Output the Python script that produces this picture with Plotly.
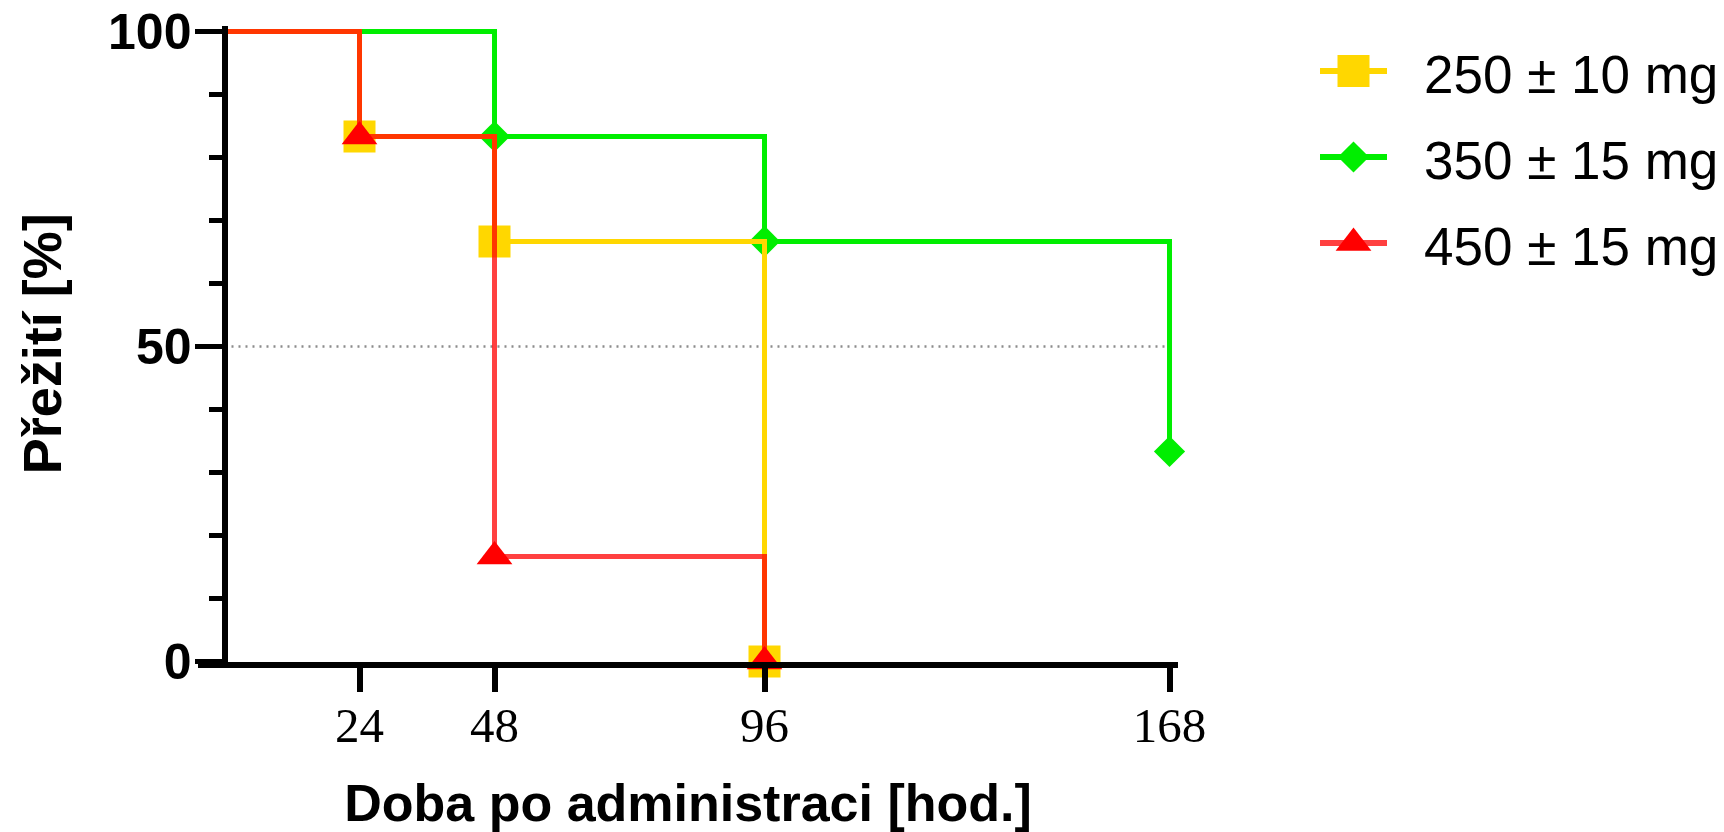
import plotly.graph_objects as go

# ---------------- data ----------------
series_names = ["250 ± 10 mg", "350 ± 15 mg", "450 ± 15 mg"]
times_250 = [0, 24, 48, 96]
surv_250 = [100, 83.33, 66.67, 0]
times_350 = [0, 48, 96, 168]
surv_350 = [100, 83.33, 66.67, 33.33]
times_450 = [0, 24, 48, 96]
surv_450 = [100, 83.33, 16.67, 0]
x_ticks = [24, 48, 96, 168]
y_ticks = [0, 50, 100]
median_level = 50

# ---------------- style ----------------
W, H = 1724, 832
def px_x(p):
    return p / W
def px_y(p):
    return 1 - p / H

SANS = "Arial, 'Liberation Sans', sans-serif"
SERIF = "'Times New Roman', 'Liberation Serif', serif"

styles = {
    "250 ± 10 mg": dict(line="#FFD700", marker="#FFD700", symbol="square", size=32),
    "350 ± 15 mg": dict(line="#00EE00", marker="#00EE00", symbol="diamond", size=24),
    "450 ± 15 mg": dict(line="rgba(255,0,0,0.75)", marker="#FF0000", symbol="triangle-up", size=31),
}
data = {
    "250 ± 10 mg": (times_250, surv_250),
    "350 ± 15 mg": (times_350, surv_350),
    "450 ± 15 mg": (times_450, surv_450),
}
draw_order = ["350 ± 15 mg", "250 ± 10 mg", "450 ± 15 mg"]

fig = go.Figure()

for name in draw_order:
    t, s = data[name]
    st = styles[name]
    sizes = [0] + [st["size"]] * (len(t) - 1)
    fig.add_trace(go.Scatter(
        x=t, y=s, name=name, mode="lines+markers",
        line=dict(color=st["line"], width=5, shape="hv"),
        marker=dict(color=st["marker"], symbol=st["symbol"], size=sizes, opacity=1, line=dict(width=0)),
        cliponaxis=False, showlegend=False,
    ))

# custom legend (samples drawn on a hidden helper axis pair)
for i, name in enumerate(series_names):
    st = styles[name]
    fig.add_trace(go.Scatter(
        x=[-1, 0, 1], y=[i, i, i], mode="lines+markers",
        line=dict(color=st["line"], width=6),
        marker=dict(color=st["marker"], symbol=st["symbol"], size=[0, st["size"], 0], opacity=1,
                    line=dict(width=0)),
        xaxis="x2", yaxis="y2", cliponaxis=False, showlegend=False, hoverinfo="skip",
    ))
    fig.add_annotation(
        x=px_x(1422), y=i, xref="paper", yref="y2", text=name, showarrow=False,
        xanchor="left", yanchor="middle", yshift=-3, font=dict(family=SANS, size=53, color="black"),
    )

# dotted 50% reference line
fig.add_shape(type="line", xref="x", yref="y", x0=0, x1=max(x_ticks), y0=median_level, y1=median_level,
              line=dict(color="#8c8c8c", width=2.5, dash="2px,5px"), layer="below")

fig.update_layout(
    template="none",
    width=W, height=H,
    margin=dict(l=0, r=0, t=0, b=0, autoexpand=False),
    paper_bgcolor="white", plot_bgcolor="white",
    showlegend=False,
    xaxis=dict(
        domain=[px_x(198), px_x(1178)], range=[-4.71, 169.51], automargin=False,
        anchor="y", showline=True, linewidth=6, linecolor="black",
        tickmode="array", tickvals=x_ticks, ticktext=[str(v) for v in x_ticks],
        ticks="outside", ticklen=24, tickwidth=6, tickcolor="black",
        tickfont=dict(family=SERIF, size=49, color="black"),
        ticklabelstandoff=-8,
        showgrid=False, zeroline=False,
        title=dict(text="Doba po administraci [hod.]", standoff=42,
                   font=dict(family=SANS, size=52, color="black", weight="bold")),
    ),
    yaxis=dict(
        domain=[px_y(661.5), px_y(26)], range=[0, 100.87], automargin=False,
        anchor="free", position=px_x(224.5), side="left",
        showline=True, linewidth=6, linecolor="black",
        tickmode="linear", tick0=0, dtick=50,
        ticks="outside", ticklen=27, tickwidth=5, tickcolor="black",
        minor=dict(tick0=0, dtick=10, ticks="outside", ticklen=13, tickwidth=5, tickcolor="black", showgrid=False),
        tickfont=dict(family=SANS, size=50, color="black", weight="bold"),
        ticklabelstandoff=-7,
        showgrid=False, zeroline=False,
        title=dict(text="Přežití [%]", standoff=28,
                   font=dict(family=SANS, size=54, color="black", weight="bold")),
    ),
    xaxis2=dict(domain=[px_x(1320), px_x(1387)], range=[-1, 1], visible=False, fixedrange=True,
                automargin=False, anchor="y2"),
    yaxis2=dict(domain=[px_y(260.2), px_y(53.8)], range=[2.2, -0.2], visible=False, fixedrange=True,
                automargin=False, anchor="x2"),
)

fig.write_html("out.html")
